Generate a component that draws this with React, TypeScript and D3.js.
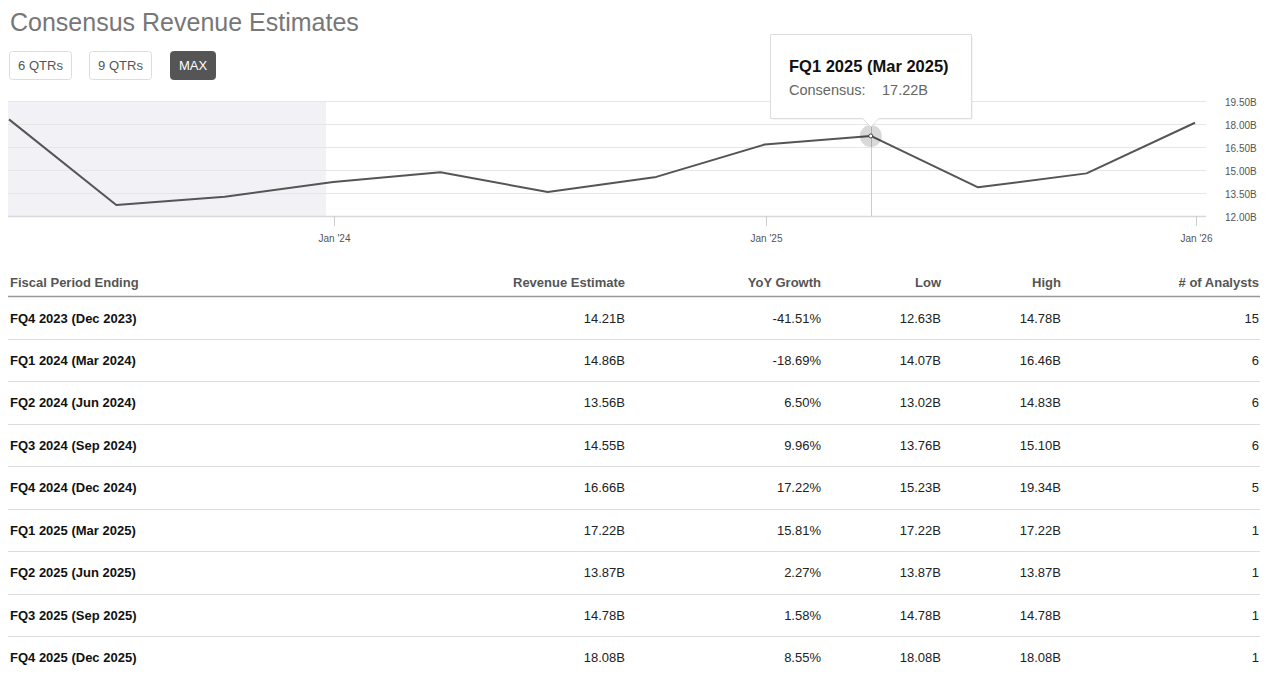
import React from "react";
import * as d3 from "d3";

const chartDates = [
  "2023-03-31", "2023-06-30", "2023-09-30", "2023-12-31",
  "2024-03-31", "2024-06-30", "2024-09-30", "2024-12-31",
  "2025-03-31", "2025-06-30", "2025-09-30", "2025-12-31",
];
const chartValues = [18.3, 12.72, 13.25, 14.21, 14.86, 13.56, 14.55, 16.66, 17.22, 13.87, 14.78, 18.08];
const yTicks = [12, 13.5, 15, 16.5, 18, 19.5];
const xTicks = ["2024-01-01", "2025-01-01", "2026-01-01"];
const pastEnd = "2023-12-25";
const hoverIndex = 8;
const hoverLabel = "FQ1 2025 (Mar 2025)";

const buttons = ["6 QTRs", "9 QTRs", "MAX"];

const headers = ["Fiscal Period Ending", "Revenue Estimate", "YoY Growth", "Low", "High", "# of Analysts"];
const periods = [
  "FQ4 2023 (Dec 2023)", "FQ1 2024 (Mar 2024)", "FQ2 2024 (Jun 2024)", "FQ3 2024 (Sep 2024)",
  "FQ4 2024 (Dec 2024)", "FQ1 2025 (Mar 2025)", "FQ2 2025 (Jun 2025)", "FQ3 2025 (Sep 2025)",
  "FQ4 2025 (Dec 2025)",
];
const revenueEst = ["14.21B", "14.86B", "13.56B", "14.55B", "16.66B", "17.22B", "13.87B", "14.78B", "18.08B"];
const yoyGrowth = ["-41.51%", "-18.69%", "6.50%", "9.96%", "17.22%", "15.81%", "2.27%", "1.58%", "8.55%"];
const lowEst = ["12.63B", "14.07B", "13.02B", "13.76B", "15.23B", "17.22B", "13.87B", "14.78B", "18.08B"];
const highEst = ["14.78B", "16.46B", "14.83B", "15.10B", "19.34B", "17.22B", "13.87B", "14.78B", "18.08B"];
const analysts = ["15", "6", "6", "6", "5", "1", "1", "1", "1"];

const FONT = "'Liberation Sans', Arial, sans-serif";
const parse = d3.timeParse("%Y-%m-%d");

export default function App() {
  const dates = chartDates.map((d) => parse(d)!);
  const x = d3.scaleTime().domain([dates[0], dates[dates.length - 1]]).range([9, 1195]);
  const y = d3.scaleLinear().domain([12, 19.5]).range([216, 101]);
  const plotLeft = 8;
  const plotRight = 1206;
  const line = d3
    .line<number>()
    .x((_, i) => x(dates[i]))
    .y((v) => y(v));
  const fmtY = (v: number) => v.toFixed(2) + "B";
  const fmtX = d3.timeFormat("%b '%y");

  const hx = x(dates[hoverIndex]);
  const hy = y(chartValues[hoverIndex]);

  const colRight = [null, 625, 821, 941, 1061, 1259];
  const cols = [periods, revenueEst, yoyGrowth, lowEst, highEst, analysts];
  const rowH = 42.43;

  const btnX = [9, 89, 170];
  const btnW = [62, 62, 45];

  return (
    <svg
      width={1280}
      height={677}
      style={{ position: "absolute", left: 0, top: 0, background: "#fff" }}
      fontFamily={FONT}
    >
      <text x={10} y={31} fontSize={25} fill="#777">Consensus Revenue Estimates</text>

      {buttons.map((b, i) => (
        <g key={b}>
          <rect
            x={btnX[i] + 0.5}
            y={51.5}
            width={btnW[i]}
            height={28}
            rx={3}
            fill={i === 2 ? "#555" : "#fff"}
            stroke={i === 2 ? "#555" : "#ddd"}
          />
          <text
            x={btnX[i] + btnW[i] / 2 + 0.5}
            y={69.5}
            textAnchor="middle"
            fontSize={13}
            fill={i === 2 ? "#fff" : "#555"}
          >
            {b}
          </text>
        </g>
      ))}

      {/* past band */}
      <rect x={plotLeft} y={101} width={x(parse(pastEnd)!) - plotLeft} height={115} fill="#f2f2f6" />

      {/* grid */}
      {yTicks.map((t) => (
        <g key={t}>
          <line x1={plotLeft} x2={plotRight} y1={Math.round(y(t)) + 0.5} y2={Math.round(y(t)) + 0.5} stroke={t === 12 ? "#d8d8d8" : "#e6e6e6"} strokeWidth={t === 12 ? 1.5 : 1} />
          <text x={1225} y={y(t) + 5} fontSize={10} fill="#555">{fmtY(t)}</text>
        </g>
      ))}

      {xTicks.map((t) => {
        const d = parse(t)!;
        const xx = Math.round(x(d)) + 0.5;
        return (
          <g key={t}>
            <line x1={xx} x2={xx} y1={216} y2={226} stroke="#ccc" />
            <text x={xx} y={242} fontSize={10} fill="#555" textAnchor="middle">{fmtX(d)}</text>
          </g>
        );
      })}

      {/* crosshair */}
      <line x1={Math.round(hx) + 0.5} x2={Math.round(hx) + 0.5} y1={119} y2={216} stroke="#ccc" />

      <path d={line(chartValues) || ""} fill="none" stroke="#555" strokeWidth={2} strokeLinejoin="round" />

      <circle cx={hx} cy={hy} r={11} fill="#000" fillOpacity={0.15} />
      <circle cx={hx} cy={hy} r={2} fill="#fff" stroke="#444" strokeWidth={1} />

      {/* tooltip */}
      <g>
        <rect x={771} y={35} width={202} height={85} rx={3} fill="#000" fillOpacity={0.04} />
        <path
          d={`M770.5,34.5 H971.5 V118.5 H${hx + 8} L${hx},127 L${hx - 8},118.5 H770.5 Z`}
          fill="#fff"
          stroke="#ddd"
        />
        <text x={789} y={72} fontSize={16.5} fontWeight="bold" fill="#111">{hoverLabel}</text>
        <text x={789} y={95} fontSize={14.5} fill="#666">Consensus:</text>
        <text x={882} y={95} fontSize={14.5} fill="#666">{chartValues[hoverIndex].toFixed(2)}B</text>
      </g>

      {/* table */}
      {headers.map((h, i) => (
        <text
          key={h}
          x={i === 0 ? 10 : (colRight[i] as number)}
          y={287}
          textAnchor={i === 0 ? "start" : "end"}
          fontSize={13}
          fontWeight="bold"
          fill="#555"
        >
          {h}
        </text>
      ))}
      <line x1={8} x2={1260} y1={296.5} y2={296.5} stroke="#999" strokeWidth={1.5} />

      {periods.map((p, r) => (
        <g key={p}>
          {cols.map((c, i) => (
            <text
              key={i}
              x={i === 0 ? 10 : (colRight[i] as number)}
              y={322.5 + r * rowH}
              textAnchor={i === 0 ? "start" : "end"}
              fontSize={13}
              fontWeight={i === 0 ? "bold" : "normal"}
              fill={i === 0 ? "#111" : "#222"}
            >
              {c[r]}
            </text>
          ))}
          {r < periods.length - 1 && (
            <line x1={8} x2={1260} y1={Math.round(339 + r * rowH) + 0.5} y2={Math.round(339 + r * rowH) + 0.5} stroke="#ddd" />
          )}
        </g>
      ))}
    </svg>
  );
}
